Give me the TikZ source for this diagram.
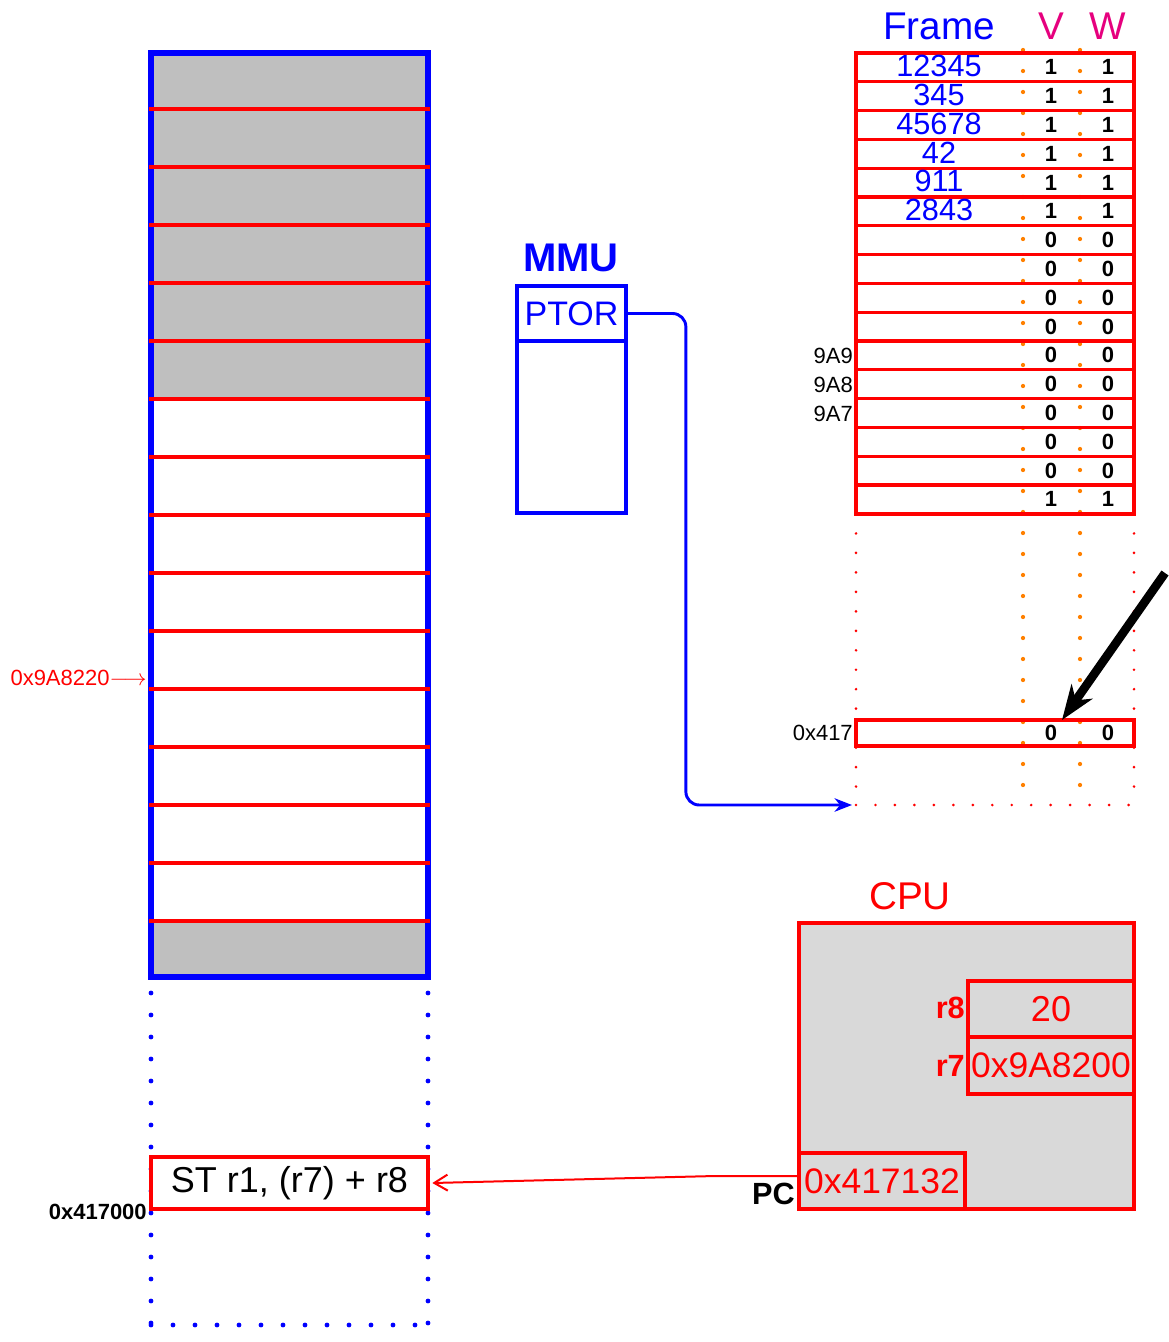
\documentclass[tikz,border=0pt]{standalone}
\usepackage{fontspec}
\setmainfont{Liberation Sans}
\usetikzlibrary{arrows.meta,fit,calc}
\definecolor{vwcol}{RGB}{230,0,126}
\definecolor{memgray}{RGB}{191,191,191}
\definecolor{cpugray}{RGB}{217,217,217}
\definecolor{dotorange}{RGB}{255,128,0}
\newcommand\fsz[1]{\fontsize{#1}{#1}\selectfont}
\begin{document}
\begin{tikzpicture}[x=0.75pt,y=-0.75pt,
  box/.style={inner sep=0pt},
  redline/.style={red, line width=2.5pt},
  lbl/.style={inner sep=0pt},
  bit/.style={inner sep=0pt, font=\fsz{16.5pt}\bfseries},
  framenum/.style={inner sep=0pt, text=blue, font=\fsz{23pt}},
  regval/.style={inner sep=0pt, text=red, font=\fsz{26.6pt}},
  bluedots/.style={blue, line width=3.6pt, line cap=round, dash pattern=on 0pt off 16.5pt},
  orangedots/.style={dotorange, line width=3.2pt, line cap=round, dash pattern=on 0pt off 15.75pt},
  reddots/.style={red, line width=2.2pt, line cap=round, dash pattern=on 0pt off 14.6pt}]
\useasboundingbox (0,0) rectangle (1169,1342);

% ---------- physical memory ----------
\fill[memgray] (151,53) rectangle (428,399);
\fill[memgray] (151,921) rectangle (428,977);
\node[box, fit={(151,53)(428,977)}, draw=blue, line width=3.8pt] (mem) {};
\foreach \y in {109,167,...,921} \draw[redline] (149,\y) -- (430,\y);
\draw[bluedots] (151,993) -- (151,1325);
\draw[bluedots] (428,993) -- (428,1325);
\draw[bluedots] (151,1325) -- (428,1325);
\node[box, fit={(151,1157)(428,1209)}, draw=red, fill=white, line width=3.5pt] (inst) {};
\node[lbl, font=\fsz{27pt}] (insttext) at (inst.center) {ST r1, (r7) + r8};
\node[lbl, anchor=east, font=\fsz{16.5pt}\bfseries] (addr417000) at (147,1212) {0x417000};
\node[lbl, anchor=east, text=red, font=\fsz{16.5pt}] (addr9a) at (147,678) {0x9A8220$\longrightarrow$};

% ---------- MMU ----------
\node[lbl, text=blue, font=\fsz{30pt}\bfseries] (mmulbl) at (571,258) {MMU};
\node[box, fit={(517,286)(626,513)}, draw=blue, line width=2.8pt] (mmu) {};
\node[box, fit={(517,286)(626,341)}, draw=blue, line width=2.8pt] (ptor) {};
\node[lbl, text=blue, font=\fsz{25.5pt}] (ptortext) at (ptor.center) {PTOR};

% ---------- page table ----------
\draw[orangedots] (1023,50) -- (1023,805);
\draw[orangedots] (1080,50) -- (1080,805);
\draw[reddots] (856,514) -- (856,805);
\draw[reddots] (1134,514) -- (1134,805);
\draw[reddots] (856,805) -- (1134,805);
\coordinate (ptin) at (852,805);

\foreach \i/\v in {0/1,1/1,2/1,3/1,4/1,5/1,6/0,7/0,8/0,9/0,10/0,11/0,12/0,13/0,14/0,15/1} {
  \pgfmathsetmacro\ya{53+28.8*\i}
  \pgfmathsetmacro\yb{53+28.8*(\i+1)}
  \pgfmathsetmacro\yc{53+28.8*(\i+0.5)}
  \node[box, fit={(856,\ya)(1134,\yb)}, draw=red, line width=2.5pt] (row\i) {};
  \node[bit] (v\i) at (1051,\yc) {\v};
  \node[bit] (w\i) at (1108,\yc) {\v};
}
\node[box, fit={(856,53)(1134,514)}, draw=red, line width=3.2pt] (ptab) {};
\foreach \i/\f in {0/12345,1/345,2/45678,3/42,4/911,5/2843} {
  \pgfmathsetmacro\yc{53+28.8*(\i+0.5)-1.5}
  \node[framenum] (f\i) at (939,\yc) {\f};
}
\node[lbl, text=blue, font=\fsz{29pt}] (hframe) at (939,26) {Frame};
\node[lbl, text=vwcol, font=\fsz{29pt}] (hv) at (1051,26) {V};
\node[lbl, text=vwcol, font=\fsz{29pt}] (hw) at (1108,26) {W};
\node[lbl, anchor=east, font=\fsz{16.5pt}] (l9a9) at (853,356) {9A9};
\node[lbl, anchor=east, font=\fsz{16.5pt}] (l9a8) at (853,385) {9A8};
\node[lbl, anchor=east, font=\fsz{16.5pt}] (l9a7) at (853,414) {9A7};

\node[box, fit={(856,720)(1134,746)}, draw=red, line width=2.5pt] (row417) {};
\node[bit] (v417) at (1051,733) {0};
\node[bit] (w417) at (1108,733) {0};
\node[lbl, anchor=east, font=\fsz{16.5pt}] (l417) at (853,733) {0x417};

\coordinate (bigstart) at (1165,573);
\coordinate (bigtip) at (1062,720);
\draw[line width=6.5pt, -{Stealth[length=26pt,width=19pt,inset=8pt]}] (bigstart) -- (bigtip);

% PTOR connector
\draw[blue, line width=2.2pt, rounded corners=10pt, -{Stealth[length=13pt,width=10pt,inset=4pt]}]
  (ptor.east) -- ++(58,0) |- (ptin);

% ---------- CPU ----------
\node[lbl, text=red, font=\fsz{29pt}] (cpulbl) at (910,896) {CPU};
\node[box, fit={(799,923)(1134,1209)}, draw=red, fill=cpugray, line width=2.8pt] (cpu) {};
\node[box, fit={(968,981)(1134,1037)}, draw=red, line width=2.5pt] (r8) {};
\node[box, fit={(968,1037)(1134,1094)}, draw=red, line width=2.5pt] (r7) {};
\node[box, fit={(799,1153)(965,1209)}, draw=red, line width=2.5pt] (pc) {};
\node[regval, font=\fsz{27pt}] (r8val) at (r8.center) {20};
\node[regval] (r7val) at (r7.center) {0x9A8200};
\node[regval] (pcval) at (pc.center) {0x417132};
\node[lbl, anchor=east, text=red, font=\fsz{23pt}\bfseries] (r8lbl) at (965,1008) {r8};
\node[lbl, anchor=east, text=red, font=\fsz{23pt}\bfseries] (r7lbl) at (965,1066) {r7};
\node[lbl, anchor=east, font=\fsz{23pt}\bfseries] (pclbl) at (795,1194) {PC};

\draw[red, line width=1.5pt, -{Straight Barb[length=10pt,width=12pt]}]
  ($(pc.west)+(0,-5)$) -- (715,1176) -- ($(inst.east)+(2,0)$);
\end{tikzpicture}
\end{document}
